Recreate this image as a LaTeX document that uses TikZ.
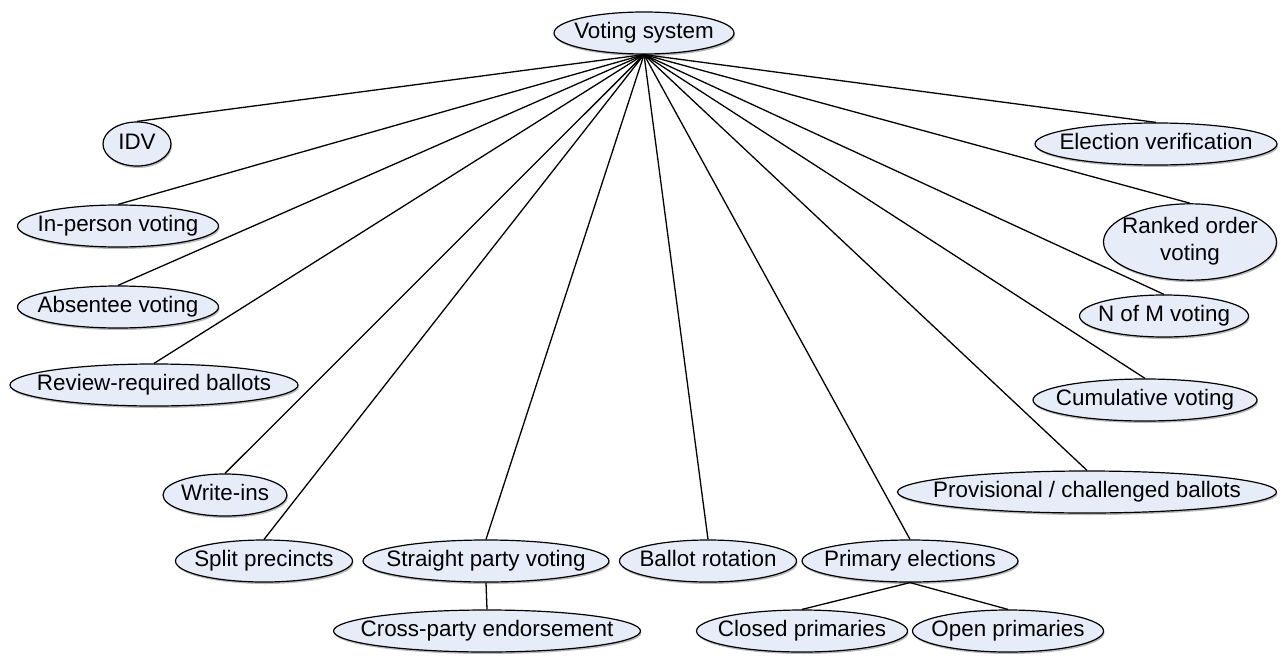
\documentclass[tikz,border=0pt]{standalone}
\usepackage{fontspec}
\setmainfont{Liberation Sans}
\usetikzlibrary{shapes.geometric,shadows}
\definecolor{bubfill}{RGB}{231,237,248}
% zero-width label with a fixed height and depth, so every text sits on the same baseline
\newcommand{\lbl}[1]{\makebox[0pt]{\vphantom{Ay}#1}}
\tikzset{
  bub/.style={draw=black, ellipse, fill=bubfill, line width=1.2pt, inner sep=0pt,
    minimum height=42pt,
    drop shadow={shadow xshift=1pt, shadow yshift=-2pt, fill=black!45, opacity=0.6}},
  link/.style={draw=black, line width=1.3pt}
}
\begin{document}
\begin{tikzpicture}[x=1pt,y=-1pt]
\useasboundingbox (0,0) rectangle (1281,658);
\fontsize{22.4}{27}\selectfont
% root
\node[bub, minimum width=180pt] (root) at (644,33) {\lbl{Voting system}};
% left column
\node[bub, minimum width=68pt, minimum height=44pt] (idv) at (137,144) {\lbl{IDV}};
\node[bub, minimum width=201pt] (inperson) at (118,226) {\lbl{In-person voting}};
\node[bub, minimum width=201pt] (absentee) at (118,307) {\lbl{Absentee voting}};
\node[bub, minimum width=288pt] (review) at (154,385) {\lbl{Review-required ballots}};
\node[bub, minimum width=124pt] (writein) at (225,495) {\lbl{Write-ins}};
% bottom row
\node[bub, minimum width=177pt] (split) at (264,561) {\lbl{Split precincts}};
\node[bub, minimum width=246pt] (straight) at (486,561) {\lbl{Straight party voting}};
\node[bub, minimum width=177pt] (rotation) at (708,561) {\lbl{Ballot rotation}};
\node[bub, minimum width=216pt] (primary) at (910,561) {\lbl{Primary elections}};
\node[bub, minimum width=307pt] (cross) at (487,631) {\lbl{Cross-party endorsement}};
\node[bub, minimum width=211pt] (closed) at (802,631) {\lbl{Closed primaries}};
\node[bub, minimum width=191pt] (open) at (1008,631) {\lbl{Open primaries}};
% right column
\node[bub, minimum width=242pt] (verify) at (1156,144) {\lbl{Election verification}};
\node[bub, minimum width=173pt, minimum height=70pt] (ranked) at (1190,242)
  {\makebox[0pt]{\begin{tabular}{@{}c@{}}Ranked order\\voting\end{tabular}}};
\node[bub, minimum width=169pt] (nofm) at (1164,316) {\lbl{N of M voting}};
\node[bub, minimum width=224pt] (cumul) at (1145,400) {\lbl{Cumulative voting}};
\node[bub, minimum width=379pt] (prov) at (1087,492) {\lbl{Provisional / challenged ballots}};
% connectors
\foreach \c in {idv,inperson,absentee,review,writein,split,straight,rotation,primary,
                verify,ranked,nofm,cumul,prov}
  \draw[link] (root.south) -- (\c.north);
\draw[link] (straight.south) -- (cross.north);
\draw[link] (primary.south) -- (closed.north);
\draw[link] (primary.south) -- (open.north);
\end{tikzpicture}
\end{document}
